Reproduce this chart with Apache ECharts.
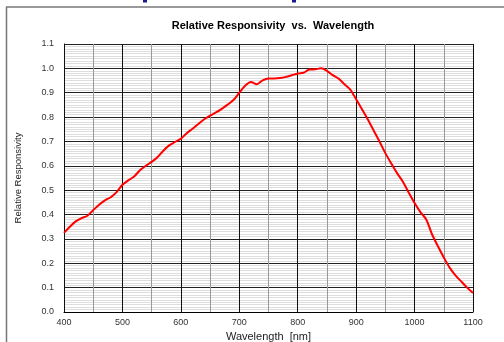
<!DOCTYPE html>
<html><head><meta charset="utf-8">
<script src="https://cdn.jsdelivr.net/npm/echarts@6/dist/echarts.min.js"></script>
<style>html,body{margin:0;padding:0;background:#fff}#c{width:504px;height:342px}</style>
</head><body><div id="c"></div>
<script>
const wavelengths = [400,410,420,430,440,450,460,470,480,490,500,510,520,530,540,550,560,570,580,590,600,610,620,630,640,650,660,670,680,690,700,710,720,730,740,750,760,770,780,790,800,810,820,830,840,850,860,870,880,890,900,910,920,930,940,950,960,970,980,990,1000,1010,1020,1030,1040,1050,1060,1070,1080,1090,1100];
const responsivity = [0.325,0.350,0.372,0.385,0.395,0.418,0.440,0.458,0.471,0.492,0.522,0.540,0.556,0.582,0.600,0.616,0.635,0.662,0.684,0.698,0.711,0.734,0.752,0.772,0.791,0.806,0.819,0.834,0.851,0.870,0.900,0.929,0.944,0.935,0.951,0.958,0.958,0.960,0.965,0.972,0.979,0.982,0.995,0.996,1.000,0.990,0.972,0.958,0.935,0.913,0.873,0.832,0.790,0.745,0.700,0.652,0.610,0.570,0.535,0.490,0.447,0.410,0.380,0.318,0.270,0.224,0.182,0.150,0.125,0.100,0.078];
const titleText = 'Relative Responsivity  vs.  Wavelength';
const xName = 'Wavelength  [nm]';
const yName = 'Relative Responsivity';

const chart = echarts.init(document.getElementById('c'), null, {renderer:'canvas'});
const font = 'Liberation Sans, Arial, sans-serif';
chart.setOption({
  animation:false,
  backgroundColor:'#fff',
  title:{text:titleText,left:268,top:15,textAlign:'center',padding:5,
    textStyle:{fontFamily:font,fontSize:11,fontWeight:'bold',color:'#000'}},
  grid:{left:64,right:31,top:44,bottom:30,containLabel:false,outerBoundsMode:'none'},
  xAxis:{type:'value',min:400,max:1100,interval:100,z:4,
    name:xName,nameLocation:'middle',nameGap:17,
    nameTextStyle:{fontFamily:font,fontSize:11,color:'#222'},
    axisLine:{show:true,lineStyle:{color:'#000',width:1}},
    axisTick:{show:false},
    axisLabel:{fontFamily:font,fontSize:9,color:'#333',margin:6,formatter:v=>String(v)},
    splitLine:{show:true,lineStyle:{color:'#111',width:1,type:'solid'}},
    minorTick:{show:false,splitNumber:2},
    minorSplitLine:{show:true,lineStyle:{color:'#999',width:1,type:'solid'}}},
  yAxis:[
    {type:'value',min:0,max:1.1,interval:0.1,z:3,
      name:yName,nameLocation:'middle',nameGap:41,
      nameTextStyle:{fontFamily:font,fontSize:9.5,color:'#222'},
      axisLine:{show:true,lineStyle:{color:'#000',width:1}},
      axisTick:{show:false},
      axisLabel:{fontFamily:font,fontSize:9,color:'#333',margin:10,formatter:v=>v.toFixed(1)},
      splitLine:{show:true,lineStyle:{color:'#222',width:1,type:'solid'}},
      minorTick:{show:false,splitNumber:10},
      minorSplitLine:{show:true,lineStyle:{color:'#ddd',width:1,type:'solid'}}},
    {type:'value',min:0,max:1.1,interval:0.02,z:2,
      axisLine:{show:false},axisTick:{show:false},axisLabel:{show:false},
      splitLine:{show:true,lineStyle:{color:'#aaa',width:1,type:'solid'}}}
  ],
  graphic:[
    {type:'line',shape:{x1:6.5,y1:7,x2:6.5,y2:342},style:{stroke:'#777',lineWidth:1.5},silent:true},
    {type:'line',shape:{x1:6,y1:7,x2:504,y2:7},style:{stroke:'#777',lineWidth:1.5},silent:true},
    {type:'rect',shape:{x:143,y:0,width:4,height:2.5},style:{fill:'#1a1a8c'},silent:true},
    {type:'rect',shape:{x:292,y:0,width:4,height:2.5},style:{fill:'#1a1a8c'},silent:true}
  ],
  series:[{type:'line',yAxisIndex:0,z:5,showSymbol:false,smooth:0.3,
    data:wavelengths.map((w,i)=>[w,responsivity[i]]),
    lineStyle:{color:'#ff0000',width:2},itemStyle:{color:'#ff0000'}}]
});
</script></body></html>
